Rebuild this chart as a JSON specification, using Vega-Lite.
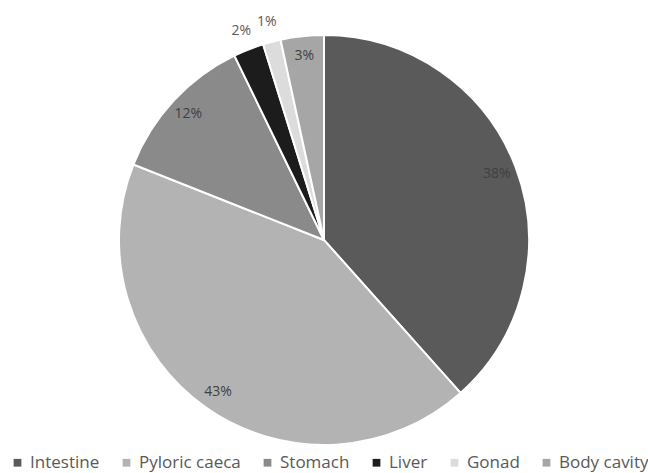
{
  "$schema": "https://vega.github.io/schema/vega-lite/v6.json",
  "width": 648,
  "height": 466,
  "padding": {"top": 7, "left": 0, "right": 0, "bottom": 0},
  "autosize": {"type": "none"},
  "background": "white",
  "view": {"stroke": null},
  "data": {"values": [
    {"part": "Intestine", "value": 38.4, "label": "38%", "idx": 1},
    {"part": "Pyloric caeca", "value": 42.6, "label": "43%", "idx": 2},
    {"part": "Stomach", "value": 11.8, "label": "12%", "idx": 3},
    {"part": "Liver", "value": 2.4, "label": "2%", "idx": 4},
    {"part": "Gonad", "value": 1.4, "label": "1%", "idx": 5},
    {"part": "Body cavity", "value": 3.4, "label": "3%", "idx": 6}
  ]},
  "encoding": {
    "theta": {"field": "value", "type": "quantitative", "stack": true},
    "order": {"field": "idx", "type": "quantitative"}
  },
  "layer": [
    {
      "mark": {"type": "arc", "outerRadius": 205, "stroke": "white", "strokeWidth": 2},
      "encoding": {
        "color": {
          "field": "part", "type": "nominal",
          "scale": {
            "domain": ["Intestine", "Pyloric caeca", "Stomach", "Liver", "Gonad", "Body cavity"],
            "range": ["#5a5a5a", "#b3b3b3", "#8a8a8a", "#1c1c1c", "#dcdcdc", "#a6a6a6"]
          },
          "legend": {
            "orient": "none", "legendX": 9, "legendY": 447, "direction": "horizontal",
            "title": null, "symbolType": "square", "symbolSize": 60, "symbolStrokeWidth": 0,
            "labelFont": "Open Sans", "labelFontSize": 17, "labelColor": "#595959",
            "columnPadding": 18, "labelOffset": 4
          }
        }
      }
    },
    {
      "mark": {"type": "text", "radius": 185, "font": "Open Sans", "fontSize": 14, "fill": "#404040"},
      "encoding": {
        "text": {"field": "label"},
        "opacity": {"condition": {"test": "datum.value < 3", "value": 0}, "value": 1}
      }
    },
    {
      "mark": {"type": "text", "radius": 225, "font": "Open Sans", "fontSize": 14, "fill": "#595959"},
      "encoding": {
        "text": {"field": "label"},
        "opacity": {"condition": {"test": "datum.value < 3", "value": 1}, "value": 0}
      }
    }
  ]
}
